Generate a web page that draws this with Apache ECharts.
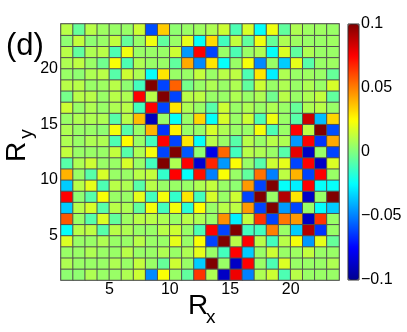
<!DOCTYPE html>
<html><head><meta charset="utf-8">
<script src="https://cdn.jsdelivr.net/npm/echarts@6/dist/echarts.min.js"></script>
<style>html,body{margin:0;padding:0;background:#fff}#c{width:407px;height:332px}</style>
</head><body><div id="c"></div>
<script>
// cell index along Rx and Ry (cell k spans k..k+1)
const xCats = [1,2,3,4,5,6,7,8,9,10,11,12,13,14,15,16,17,18,19,20,21,22,23];
const yCats = [1,2,3,4,5,6,7,8,9,10,11,12,13,14,15,16,17,18,19,20,21,22,23];
const xTicks = [5,10,15,20];
const yTicks = [5,10,15,20];
const cbTicks = [-0.1,-0.05,0,0.05,0.1];

// rows of values, one per Ry cell (y23 = top row), columns Rx = 1..23
const y23 = [0.011,-0.005,0.011,0.006,0.005,0.005,0.015,-0.06,0.035,0.003,0.005,0.006,0.009,0.015,-0.01,0.017,-0.024,0.022,-0.006,0.009,0.006,0.006,0.005];
const y22 = [0.003,0.013,0.003,0.005,0.013,-0.005,0.005,0.022,-0.006,0.005,0.02,-0.024,0.032,-0.012,0.013,-0.006,0.022,-0.005,0.009,0.006,0.005,0.005,0.006];
const y21 = [0.011,-0.006,0.009,0.011,-0.01,0.022,0.005,0.005,0.005,0.015,-0.045,0.075,-0.062,0.005,-0.01,0.005,0.009,-0.024,0.018,-0.006,0.009,0.005,0.005];
const y20 = [0.009,0.012,0.005,-0.003,0.024,-0.01,0.009,0.005,0.005,-0.006,0.042,-0.048,0.03,-0.024,0.005,0.023,-0.048,0.005,-0.035,0.02,-0.008,0.005,0.006];
const y19 = [0.005,0.003,0.009,0.011,-0.008,0.015,0.009,-0.024,0.03,0.005,0.005,0.013,0.005,0.011,0.012,-0.01,0.03,-0.028,0.009,0.005,0.006,0.005,-0.005];
const y18 = [0.011,0.011,0.005,0.006,0.011,0.003,-0.012,0.1,-0.062,0.056,-0.002,0.005,0.009,0.005,0.009,-0.006,0.015,0.005,0.009,0.005,0.009,0.005,0.017];
const y17 = [-0.002,0.011,0.011,0.005,0.011,0.009,0.075,0.011,0.1,-0.062,0.011,0.012,0.005,0.005,0.009,0.005,0.009,-0.003,0.011,0.005,0.009,0.013,-0.006];
const y16 = [0.015,0.005,0.009,0.005,0.009,0.011,-0.012,0.075,-0.062,0.03,0.009,0.005,-0.008,0.015,0.005,0.009,0.005,0.009,0.005,-0.005,0.009,0.011,0.005];
const y15 = [0.005,0.009,0.009,0.009,-0.008,0.011,0.038,-0.09,0.005,-0.024,0.005,0.033,-0.024,0.017,0.005,0.015,-0.01,0.022,0.005,-0.008,0.085,-0.038,0.033];
const y14 = [0.009,0.005,0.005,0.003,0.023,-0.008,0.005,0.04,-0.065,0.028,0.005,0.005,0.017,0.009,0.005,0.005,0.023,-0.01,0.005,0.075,0.012,0.1,-0.06];
const y13 = [0.009,0.005,0.009,0.009,-0.01,0.025,0.005,-0.012,0.075,-0.062,0.03,-0.024,0.011,0.005,-0.008,0.011,0.005,0.011,0.009,-0.045,0.075,-0.065,0.042];
const y12 = [0.013,0.005,0.005,0.005,0.013,-0.008,0.009,0.023,-0.062,0.1,-0.058,0.003,-0.08,0.055,-0.012,0.011,0.009,0.005,-0.008,0.08,-0.088,0.005,-0.062];
const y11 = [-0.008,0.009,0.015,0.005,0.005,0.017,0.005,-0.012,0.1,0.009,0.075,-0.085,0.068,-0.045,0.024,0.005,-0.008,0.015,0.02,-0.062,0.075,-0.088,0.018];
const y10 = [0.04,0.005,-0.008,0.017,0.005,0.005,0.011,0.013,-0.015,0.075,-0.024,0.072,-0.05,0.024,0.005,-0.006,0.053,-0.05,0.012,0.04,-0.062,0.075,0.005];
const y9  = [-0.035,0.011,0.02,-0.01,0.011,0.009,-0.008,0.011,0.005,0.005,0.005,0.009,0.013,0.005,0.003,0.045,-0.062,0.1,-0.024,-0.028,0.075,-0.024,-0.024];
const y8  = [0.075,0.003,-0.008,0.024,0.005,0.005,0.02,-0.012,0.023,-0.015,0.03,-0.012,0.017,0.005,0.015,-0.062,0.1,0.005,0.09,0.03,-0.088,0.005,0.1];
const y7  = [-0.035,0.011,0.017,-0.008,0.011,0.009,-0.006,0.023,-0.012,0.023,-0.017,0.025,0.005,0.011,0.012,0.045,-0.062,0.1,-0.045,-0.062,0.005,-0.024,-0.035];
const y6  = [0.058,0.005,-0.008,0.018,-0.006,0.006,0.011,0.011,0.009,0.005,0.011,0.009,0.005,0.047,-0.028,0.013,0.065,-0.062,0.052,0.045,-0.088,0.065,0.005];
const y5  = [-0.024,0.011,0.012,-0.008,0.011,0.009,0.005,0.005,0.011,0.015,0.005,-0.01,0.075,-0.062,0.1,-0.012,-0.012,0.05,0.005,-0.035,0.09,-0.065,0.005];
const y4  = [0.018,0.005,0.005,0.009,0.005,0.005,0.011,0.005,0.005,0.02,0.005,0.024,-0.062,0.1,0.011,0.075,0.011,-0.012,0.011,0.023,-0.045,0.02,-0.005];
const y3  = [0.005,0.005,0.009,0.005,0.005,0.011,0.005,0.005,0.009,0.005,0.009,0.02,0.005,-0.012,0.075,-0.035,0.005,0.015,0.005,0.006,0.013,0.005,0.005];
const y2  = [0.009,0.005,0.005,0.005,0.009,0.005,0.013,0.005,-0.005,0.015,0.005,-0.035,0.1,0.005,-0.088,0.075,0.005,-0.01,0.018,0.005,0.005,0.005,0.009];
const y1  = [0.003,0.003,0.009,0.005,0.005,0.009,0.015,-0.048,0.024,0.005,-0.006,0.065,0.009,-0.088,0.078,-0.05,0.009,0.015,-0.01,0.011,0.005,0.005,0.005];

const rows = [y1,y2,y3,y4,y5,y6,y7,y8,y9,y10,y11,y12,y13,y14,y15,y16,y17,y18,y19,y20,y21,y22,y23];
const data = [];
rows.forEach((r, j) => r.forEach((v, i) => data.push([i, j, v])));

const jet = ['#00008f','#0000ff','#0080ff','#00ffff','#80ff80','#ffff00','#ff8000','#ff0000','#800000'];
const FONT = 'Liberation Sans';
const fmtNum = v => { const r = Math.round(v * 1000) / 1000; return r < 0 ? '\u2212' + Math.abs(r) : String(r); };

const chart = echarts.init(document.getElementById('c'), null, {renderer: 'canvas'});
chart.setOption({
  animation: false,
  backgroundColor: '#fff',
  grid: [
    {left: 61, top: 24, width: 278, height: 256, show: true, borderColor: '#a0a0a0', borderWidth: 2, backgroundColor: 'transparent'},
    {left: 348, top: 24, width: 11, height: 256, show: false}
  ],
  xAxis: [
    {type: 'category', data: xCats, gridIndex: 0, show: false},
    {type: 'value', gridIndex: 0, min: 1, max: 24, position: 'bottom',
     axisLine: {show: false}, axisTick: {show: false}, splitLine: {show: false},
     axisLabel: {customValues: xTicks, formatter: v => xTicks.includes(v) ? String(v) : '',
                 fontSize: 16, color: '#000', margin: 2, fontFamily: FONT}},
    {type: 'value', gridIndex: 1, min: 0, max: 1, show: false}
  ],
  yAxis: [
    {type: 'category', data: yCats, gridIndex: 0, show: false},
    {type: 'value', gridIndex: 0, min: 1, max: 24, position: 'left',
     axisLine: {show: false}, axisTick: {show: false}, splitLine: {show: false},
     axisLabel: {customValues: yTicks, formatter: v => yTicks.includes(v) ? String(v) : '',
                 fontSize: 16, color: '#000', margin: 3, fontFamily: FONT}},
    {type: 'value', gridIndex: 1, min: -0.1, max: 0.1, interval: 0.05, position: 'right',
     axisLine: {show: false}, axisTick: {show: false}, splitLine: {show: false},
     axisLabel: {customValues: cbTicks, formatter: fmtNum, fontSize: 16, color: '#000', margin: 2, fontFamily: FONT}}
  ],
  visualMap: {
    type: 'continuous', min: -0.1, max: 0.1, dimension: 2, seriesIndex: 0,
    calculable: false, orient: 'vertical', left: 348, top: 24, itemWidth: 11, itemHeight: 256,
    padding: 0, text: null, hoverLink: false, inRange: {color: jet}
  },
  series: [{
    type: 'heatmap', xAxisIndex: 0, yAxisIndex: 0, data: data,
    itemStyle: {borderColor: '#505050', borderWidth: 1},
    emphasis: {disabled: true}, silent: true
  }],
  graphic: [
    {type: 'rect', shape: {x: 348, y: 24, width: 11, height: 256}, style: {fill: 'none', stroke: '#333', lineWidth: 1}, z: 100, silent: true},
    {type: 'text', x: 6, y: 46, style: {text: '(d)', font: '31px "Liberation Sans"', fill: '#000', textVerticalAlign: 'middle'}, z: 100},
    {type: 'text', x: 188, y: 306, style: {text: 'R', font: '28px "Liberation Sans"', fill: '#000', textVerticalAlign: 'middle'}, z: 100},
    {type: 'text', x: 206, y: 318, style: {text: 'x', font: '19px "Liberation Sans"', fill: '#000', textVerticalAlign: 'middle'}, z: 100},
    {type: 'text', x: 17, y: 152, rotation: Math.PI / 2, style: {text: 'R', font: '28px "Liberation Sans"', fill: '#000', textAlign: 'center', textVerticalAlign: 'middle'}, z: 100},
    {type: 'text', x: 27, y: 134, rotation: Math.PI / 2, style: {text: 'y', font: '19px "Liberation Sans"', fill: '#000', textAlign: 'center', textVerticalAlign: 'middle'}, z: 100}
  ]
});
</script>
</body></html>
